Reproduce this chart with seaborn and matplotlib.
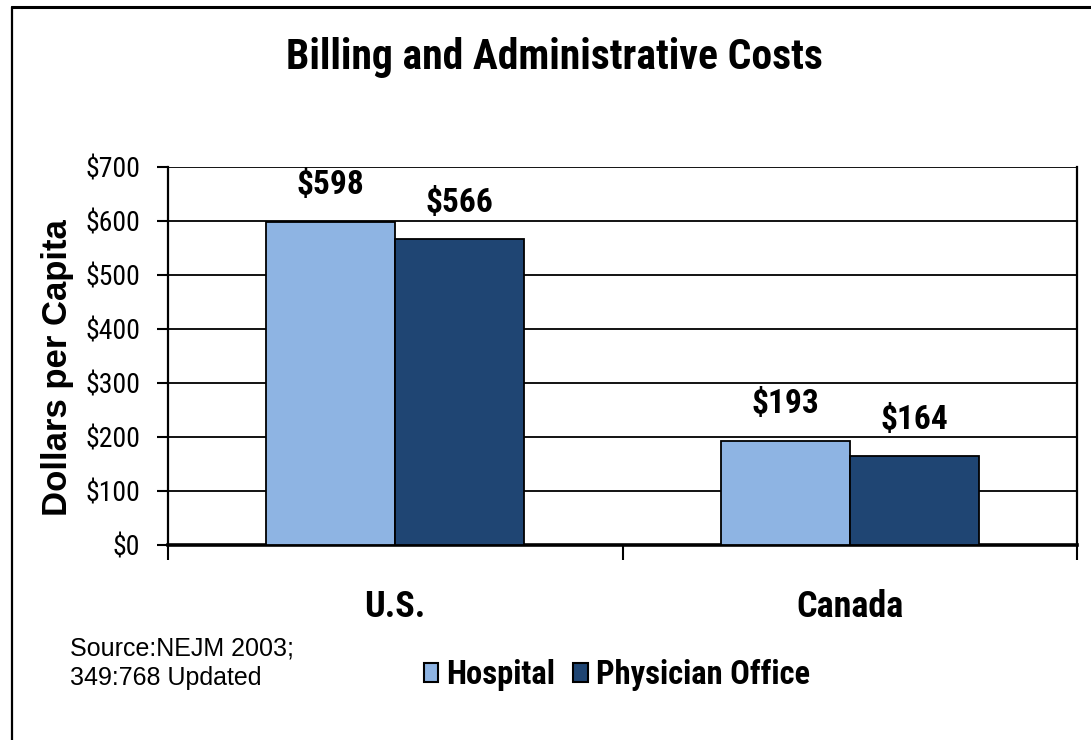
import matplotlib
matplotlib.use("Agg")
import matplotlib.pyplot as plt
from matplotlib import font_manager
from matplotlib.patches import Patch
from matplotlib.ticker import FixedLocator, FuncFormatter
import seaborn as sns
import pandas as pd

# --- data -------------------------------------------------------------
countries = ["U.S.", "Canada"]
series = ["Hospital", "Physician Office"]
hospital = [598, 193]
physician_office = [566, 164]
y_ticks = [0, 100, 200, 300, 400, 500, 600, 700]

title = "Billing and Administrative Costs"
y_label = "Dollars per Capita"
source_note = "Source:NEJM 2003;\n349:768 Updated"

colors = {"Hospital": "#8EB4E3", "Physician Office": "#1F4573"}

# --- fonts: prefer a condensed sans if one is installed ----------------
available = {f.name for f in font_manager.fontManager.ttflist}
narrow = None
for cand in ["Liberation Sans Narrow", "Arial Narrow", "Roboto Condensed",
             "Open Sans Condensed", "Noto Sans Condensed", "DejaVu Sans Condensed"]:
    if cand in available:
        narrow = cand
        break
regular = "Liberation Sans"
# size factor to keep text widths similar when no condensed face exists
k = 1.0 if narrow is not None else 0.86
if narrow is None:
    narrow = regular

sns.set_theme(style="white")
plt.rcParams["font.family"] = [regular, "DejaVu Sans"]
plt.rcParams["text.color"] = "black"

df = pd.DataFrame({
    "country": countries * 2,
    "series": [series[0]] * len(countries) + [series[1]] * len(countries),
    "value": hospital + physician_office,
})

W, H = 1091, 740
fig = plt.figure(figsize=(W / 100, H / 100), dpi=100)
fig.patch.set_facecolor("white")

# outer frame (top and left edges)
fig.add_artist(plt.Line2D([12 / W, 12 / W], [0, 1 - 7 / H], color="black", lw=1.6,
                          transform=fig.transFigure))
fig.add_artist(plt.Line2D([12 / W, 1], [1 - 7 / H, 1 - 7 / H], color="black", lw=2.2,
                          transform=fig.transFigure))

left, right, top, bottom = 168, 1077, 167, 545
ax = fig.add_axes([left / W, 1 - bottom / H, (right - left) / W, (bottom - top) / H])

sns.barplot(data=df, x="country", y="value", hue="series", order=countries,
            hue_order=series, palette=colors, width=0.568, gap=0,
            edgecolor="black", linewidth=1.3, saturation=1, ax=ax, legend=False,
            zorder=3)

ax.set_ylim(0, 700)
ax.set_xlim(-0.5, 1.5)
ax.yaxis.set_major_locator(FixedLocator(y_ticks))
ax.yaxis.set_major_formatter(FuncFormatter(lambda v, p: f"${int(v)}"))
ax.grid(axis="y", color="black", lw=1.3, zorder=0)
ax.grid(axis="x", visible=False)

for s in ["left", "right"]:
    ax.spines[s].set_visible(True)
    ax.spines[s].set_color("black")
    ax.spines[s].set_linewidth(1.6)
ax.spines["top"].set_visible(False)
ax.spines["bottom"].set_color("black")
ax.spines["bottom"].set_linewidth(2.6)

ax.tick_params(axis="y", which="major", direction="out", length=8, width=1.5,
               color="black", left=True, pad=12)
for lbl in ax.get_yticklabels():
    lbl.set_fontfamily(narrow)
    lbl.set_fontsize(20 * k)
    lbl.set_color("black")

# category separators as ticks below the axis
ax.xaxis.set_minor_locator(FixedLocator([-0.5, 0.5, 1.5]))
ax.tick_params(axis="x", which="minor", direction="out", length=11, width=1.5,
               color="black", bottom=True)
ax.tick_params(axis="x", which="major", length=0, pad=32)
for lbl in ax.get_xticklabels():
    lbl.set_fontfamily(narrow)
    lbl.set_fontweight("bold")
    lbl.set_fontsize(26 * k)
    lbl.set_color("black")

ax.set_xlabel("")
ax.set_ylabel(y_label, fontsize=25, fontweight="bold", color="black",
              fontfamily=regular, labelpad=8)
ax.yaxis.label.set_y(0.47)

# value labels above each bar
for container in ax.containers:
    for bar in container:
        h = bar.get_height()
        ax.annotate(f"${h:.0f}", (bar.get_x() + bar.get_width() / 2, h),
                    xytext=(0, 15), textcoords="offset points",
                    ha="center", va="bottom", fontsize=24 * k, fontweight="bold",
                    fontfamily=narrow, color="black")

fig.text(554 / W, 1 - 58 / H, title, ha="center", va="center", fontsize=30 * k,
         fontweight="bold", fontfamily=narrow, color="black")

fig.text(70 / W, 1 - 663 / H, source_note, ha="left", va="center", fontsize=18,
         fontfamily=regular, color="black", linespacing=1.3)

handles = [Patch(facecolor=colors[s], edgecolor="black", linewidth=1.5) for s in series]
fig.legend(handles, series, loc="center", bbox_to_anchor=(617 / W, 1 - 675 / H),
           ncol=2, frameon=False, handlelength=0.44, handleheight=0.52,
           handletextpad=0.25, columnspacing=0.55, labelcolor="black",
           prop={"family": narrow, "weight": "bold", "size": 23.5 * k})

fig.savefig("out.png", dpi=100, facecolor="white")
